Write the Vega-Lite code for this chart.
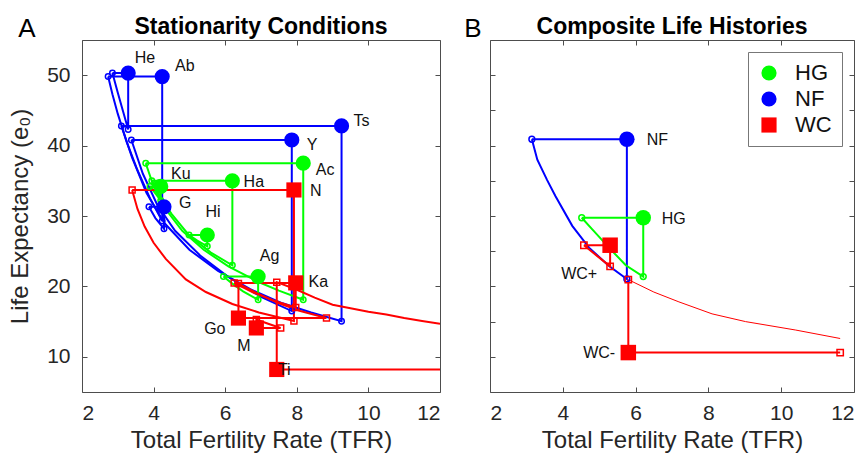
{
  "$schema": "https://vega.github.io/schema/vega-lite/v6.json",
  "autosize": {"type": "pad"},
  "padding": {"left": 8, "top": 15, "right": 0, "bottom": 3},
  "bounds": "flush",
  "spacing": 50,
  "resolve": {
    "scale": {"x": "independent", "y": "independent", "color": "independent", "shape": "independent", "stroke": "independent"},
    "legend": {"color": "independent", "shape": "independent", "stroke": "independent"}
  },
  "datasets": {
    "pa": [
      {"pop": "He", "g": "NF", "o": 0, "x": 2.85, "y": 50.3, "m": "O"},
      {"pop": "He", "g": "NF", "o": 1, "x": 3.29, "y": 50.3, "m": "F"},
      {"pop": "He", "g": "NF", "o": 2, "x": 3.29, "y": 42.3, "m": "O"},
      {"pop": "He", "g": "NF", "o": 3, "x": 3.15, "y": 44.8, "m": "-"},
      {"pop": "He", "g": "NF", "o": 4, "x": 3.0, "y": 47.5, "m": "-"},
      {"pop": "He", "g": "NF", "o": 5, "x": 2.85, "y": 50.3, "m": "-"},
      {"pop": "Ab", "g": "NF", "o": 0, "x": 2.73, "y": 49.8, "m": "O"},
      {"pop": "Ab", "g": "NF", "o": 1, "x": 4.24, "y": 49.8, "m": "F"},
      {"pop": "Ab", "g": "NF", "o": 2, "x": 4.24, "y": 29.3, "m": "O"},
      {"pop": "Ab", "g": "NF", "o": 3, "x": 3.9, "y": 32.5, "m": "-"},
      {"pop": "Ab", "g": "NF", "o": 4, "x": 3.55, "y": 36.5, "m": "-"},
      {"pop": "Ab", "g": "NF", "o": 5, "x": 3.25, "y": 40.5, "m": "-"},
      {"pop": "Ab", "g": "NF", "o": 6, "x": 3.0, "y": 44.5, "m": "-"},
      {"pop": "Ab", "g": "NF", "o": 7, "x": 2.85, "y": 47.3, "m": "-"},
      {"pop": "Ab", "g": "NF", "o": 8, "x": 2.73, "y": 49.8, "m": "-"},
      {"pop": "Ts", "g": "NF", "o": 0, "x": 3.1, "y": 42.8, "m": "O"},
      {"pop": "Ts", "g": "NF", "o": 1, "x": 9.25, "y": 42.8, "m": "F"},
      {"pop": "Ts", "g": "NF", "o": 2, "x": 9.25, "y": 15.06, "m": "O"},
      {"pop": "Ts", "g": "NF", "o": 3, "x": 8.4, "y": 16.3, "m": "-"},
      {"pop": "Ts", "g": "NF", "o": 4, "x": 7.6, "y": 17.6, "m": "-"},
      {"pop": "Ts", "g": "NF", "o": 5, "x": 6.7, "y": 19.6, "m": "-"},
      {"pop": "Ts", "g": "NF", "o": 6, "x": 5.8, "y": 22.2, "m": "-"},
      {"pop": "Ts", "g": "NF", "o": 7, "x": 5.0, "y": 25.2, "m": "-"},
      {"pop": "Ts", "g": "NF", "o": 8, "x": 4.3, "y": 29.0, "m": "-"},
      {"pop": "Ts", "g": "NF", "o": 9, "x": 3.8, "y": 33.3, "m": "-"},
      {"pop": "Ts", "g": "NF", "o": 10, "x": 3.4, "y": 38.3, "m": "-"},
      {"pop": "Ts", "g": "NF", "o": 11, "x": 3.1, "y": 42.8, "m": "-"},
      {"pop": "Y", "g": "NF", "o": 0, "x": 3.38, "y": 40.8, "m": "O"},
      {"pop": "Y", "g": "NF", "o": 1, "x": 7.86, "y": 40.8, "m": "F"},
      {"pop": "Y", "g": "NF", "o": 2, "x": 7.86, "y": 16.5, "m": "O"},
      {"pop": "Y", "g": "NF", "o": 3, "x": 7.0, "y": 18.5, "m": "-"},
      {"pop": "Y", "g": "NF", "o": 4, "x": 6.1, "y": 21.3, "m": "-"},
      {"pop": "Y", "g": "NF", "o": 5, "x": 5.3, "y": 24.4, "m": "-"},
      {"pop": "Y", "g": "NF", "o": 6, "x": 4.6, "y": 27.9, "m": "-"},
      {"pop": "Y", "g": "NF", "o": 7, "x": 4.1, "y": 31.6, "m": "-"},
      {"pop": "Y", "g": "NF", "o": 8, "x": 3.7, "y": 36.0, "m": "-"},
      {"pop": "Y", "g": "NF", "o": 9, "x": 3.38, "y": 40.8, "m": "-"},
      {"pop": "G", "g": "NF", "o": 0, "x": 3.87, "y": 31.3, "m": "O"},
      {"pop": "G", "g": "NF", "o": 1, "x": 4.29, "y": 31.3, "m": "F"},
      {"pop": "G", "g": "NF", "o": 2, "x": 4.29, "y": 28.2, "m": "O"},
      {"pop": "G", "g": "NF", "o": 3, "x": 4.05, "y": 29.7, "m": "-"},
      {"pop": "G", "g": "NF", "o": 4, "x": 3.87, "y": 31.3, "m": "-"},
      {"pop": "Ac", "g": "HG", "o": 0, "x": 3.78, "y": 37.5, "m": "O"},
      {"pop": "Ac", "g": "HG", "o": 1, "x": 8.18, "y": 37.5, "m": "F"},
      {"pop": "Ac", "g": "HG", "o": 2, "x": 8.18, "y": 18.1, "m": "O"},
      {"pop": "Ac", "g": "HG", "o": 3, "x": 7.5, "y": 19.4, "m": "-"},
      {"pop": "Ac", "g": "HG", "o": 4, "x": 6.9, "y": 20.7, "m": "-"},
      {"pop": "Ac", "g": "HG", "o": 5, "x": 6.1, "y": 22.8, "m": "-"},
      {"pop": "Ac", "g": "HG", "o": 6, "x": 5.4, "y": 25.2, "m": "-"},
      {"pop": "Ac", "g": "HG", "o": 7, "x": 4.8, "y": 27.9, "m": "-"},
      {"pop": "Ac", "g": "HG", "o": 8, "x": 4.3, "y": 31.2, "m": "-"},
      {"pop": "Ac", "g": "HG", "o": 9, "x": 4.0, "y": 34.2, "m": "-"},
      {"pop": "Ac", "g": "HG", "o": 10, "x": 3.78, "y": 37.5, "m": "-"},
      {"pop": "Ha", "g": "HG", "o": 0, "x": 3.95, "y": 35.0, "m": "O"},
      {"pop": "Ha", "g": "HG", "o": 1, "x": 6.2, "y": 35.0, "m": "F"},
      {"pop": "Ha", "g": "HG", "o": 2, "x": 6.2, "y": 23.0, "m": "O"},
      {"pop": "Ha", "g": "HG", "o": 3, "x": 5.6, "y": 24.8, "m": "-"},
      {"pop": "Ha", "g": "HG", "o": 4, "x": 5.0, "y": 27.2, "m": "-"},
      {"pop": "Ha", "g": "HG", "o": 5, "x": 4.5, "y": 30.3, "m": "-"},
      {"pop": "Ha", "g": "HG", "o": 6, "x": 4.2, "y": 32.6, "m": "-"},
      {"pop": "Ha", "g": "HG", "o": 7, "x": 3.95, "y": 35.0, "m": "-"},
      {"pop": "Ku", "g": "HG", "o": 0, "x": 3.9, "y": 34.2, "m": "O"},
      {"pop": "Ku", "g": "HG", "o": 1, "x": 4.2, "y": 34.2, "m": "F"},
      {"pop": "Ku", "g": "HG", "o": 2, "x": 4.2, "y": 32.2, "m": "O"},
      {"pop": "Ku", "g": "HG", "o": 3, "x": 4.05, "y": 33.2, "m": "-"},
      {"pop": "Ku", "g": "HG", "o": 4, "x": 3.9, "y": 34.2, "m": "-"},
      {"pop": "Hi", "g": "HG", "o": 0, "x": 4.99, "y": 27.3, "m": "O"},
      {"pop": "Hi", "g": "HG", "o": 1, "x": 5.5, "y": 27.3, "m": "F"},
      {"pop": "Hi", "g": "HG", "o": 2, "x": 5.5, "y": 25.7, "m": "O"},
      {"pop": "Hi", "g": "HG", "o": 3, "x": 5.22, "y": 26.5, "m": "-"},
      {"pop": "Hi", "g": "HG", "o": 4, "x": 4.99, "y": 27.3, "m": "-"},
      {"pop": "Ag", "g": "HG", "o": 0, "x": 5.95, "y": 21.4, "m": "O"},
      {"pop": "Ag", "g": "HG", "o": 1, "x": 6.92, "y": 21.4, "m": "F"},
      {"pop": "Ag", "g": "HG", "o": 2, "x": 6.92, "y": 18.1, "m": "O"},
      {"pop": "Ag", "g": "HG", "o": 3, "x": 6.5, "y": 19.3, "m": "-"},
      {"pop": "Ag", "g": "HG", "o": 4, "x": 6.2, "y": 20.4, "m": "-"},
      {"pop": "Ag", "g": "HG", "o": 5, "x": 5.95, "y": 21.4, "m": "-"},
      {"pop": "N", "g": "WC", "o": 0, "x": 3.4, "y": 33.7, "m": "O"},
      {"pop": "N", "g": "WC", "o": 1, "x": 7.92, "y": 33.7, "m": "F"},
      {"pop": "N", "g": "WC", "o": 2, "x": 7.92, "y": 15.1, "m": "O"},
      {"pop": "N", "g": "WC", "o": 3, "x": 6.94, "y": 16.3, "m": "-"},
      {"pop": "N", "g": "WC", "o": 4, "x": 6.2, "y": 17.5, "m": "-"},
      {"pop": "N", "g": "WC", "o": 5, "x": 5.46, "y": 19.2, "m": "-"},
      {"pop": "N", "g": "WC", "o": 6, "x": 4.9, "y": 21.0, "m": "-"},
      {"pop": "N", "g": "WC", "o": 7, "x": 4.34, "y": 23.9, "m": "-"},
      {"pop": "N", "g": "WC", "o": 8, "x": 4.0, "y": 26.2, "m": "-"},
      {"pop": "N", "g": "WC", "o": 9, "x": 3.75, "y": 28.5, "m": "-"},
      {"pop": "N", "g": "WC", "o": 10, "x": 3.55, "y": 31.0, "m": "-"},
      {"pop": "N", "g": "WC", "o": 11, "x": 3.4, "y": 33.7, "m": "-"},
      {"pop": "Ka", "g": "WC", "o": 0, "x": 6.25, "y": 20.5, "m": "O"},
      {"pop": "Ka", "g": "WC", "o": 1, "x": 7.97, "y": 20.5, "m": "F"},
      {"pop": "Ka", "g": "WC", "o": 2, "x": 7.97, "y": 17.0, "m": "O"},
      {"pop": "Ka", "g": "WC", "o": 3, "x": 7.4, "y": 17.9, "m": "-"},
      {"pop": "Ka", "g": "WC", "o": 4, "x": 6.8, "y": 19.1, "m": "-"},
      {"pop": "Ka", "g": "WC", "o": 5, "x": 6.25, "y": 20.5, "m": "-"},
      {"pop": "Go", "g": "WC", "o": 0, "x": 8.83, "y": 15.5, "m": "O"},
      {"pop": "Go", "g": "WC", "o": 1, "x": 6.37, "y": 15.5, "m": "F"},
      {"pop": "Go", "g": "WC", "o": 2, "x": 6.37, "y": 20.4, "m": "O"},
      {"pop": "Go", "g": "WC", "o": 3, "x": 6.9, "y": 19.0, "m": "-"},
      {"pop": "Go", "g": "WC", "o": 4, "x": 7.5, "y": 17.6, "m": "-"},
      {"pop": "Go", "g": "WC", "o": 5, "x": 8.1, "y": 16.5, "m": "-"},
      {"pop": "Go", "g": "WC", "o": 6, "x": 8.83, "y": 15.5, "m": "-"},
      {"pop": "M", "g": "WC", "o": 0, "x": 7.55, "y": 14.1, "m": "O"},
      {"pop": "M", "g": "WC", "o": 1, "x": 6.87, "y": 14.1, "m": "F"},
      {"pop": "M", "g": "WC", "o": 2, "x": 6.87, "y": 15.3, "m": "O"},
      {"pop": "M", "g": "WC", "o": 3, "x": 7.2, "y": 14.7, "m": "-"},
      {"pop": "M", "g": "WC", "o": 4, "x": 7.55, "y": 14.1, "m": "-"},
      {"pop": "Ti", "g": "WC", "o": 0, "x": 12.0, "y": 8.2, "m": "-"},
      {"pop": "Ti", "g": "WC", "o": 1, "x": 7.44, "y": 8.2, "m": "F"},
      {"pop": "Ti", "g": "WC", "o": 2, "x": 7.44, "y": 20.6, "m": "O"},
      {"pop": "Ti", "g": "WC", "o": 3, "x": 7.97, "y": 19.6, "m": "-"},
      {"pop": "Ti", "g": "WC", "o": 4, "x": 8.5, "y": 18.4, "m": "-"},
      {"pop": "Ti", "g": "WC", "o": 5, "x": 9.0, "y": 17.4, "m": "-"},
      {"pop": "Ti", "g": "WC", "o": 6, "x": 9.5, "y": 16.9, "m": "-"},
      {"pop": "Ti", "g": "WC", "o": 7, "x": 10.0, "y": 16.4, "m": "-"},
      {"pop": "Ti", "g": "WC", "o": 8, "x": 10.5, "y": 16.0, "m": "-"},
      {"pop": "Ti", "g": "WC", "o": 9, "x": 11.0, "y": 15.5, "m": "-"},
      {"pop": "Ti", "g": "WC", "o": 10, "x": 11.5, "y": 15.1, "m": "-"},
      {"pop": "Ti", "g": "WC", "o": 11, "x": 12.0, "y": 14.7, "m": "-"}
    ],
    "pb": [
      {"pop": "NF", "g": "NF", "o": 0, "x": 3.15, "y": 40.9, "m": "O"},
      {"pop": "NF", "g": "NF", "o": 1, "x": 5.76, "y": 40.9, "m": "F"},
      {"pop": "NF", "g": "NF", "o": 2, "x": 5.76, "y": 21.06, "m": "O"},
      {"pop": "NF", "g": "NF", "o": 3, "x": 5.27, "y": 22.9, "m": "-"},
      {"pop": "NF", "g": "NF", "o": 4, "x": 4.72, "y": 25.5, "m": "-"},
      {"pop": "NF", "g": "NF", "o": 5, "x": 4.26, "y": 28.6, "m": "-"},
      {"pop": "NF", "g": "NF", "o": 6, "x": 3.8, "y": 32.8, "m": "-"},
      {"pop": "NF", "g": "NF", "o": 7, "x": 3.57, "y": 35.1, "m": "-"},
      {"pop": "NF", "g": "NF", "o": 8, "x": 3.3, "y": 38.0, "m": "-"},
      {"pop": "NF", "g": "NF", "o": 9, "x": 3.15, "y": 40.9, "m": "-"},
      {"pop": "HG", "g": "HG", "o": 0, "x": 4.52, "y": 29.75, "m": "O"},
      {"pop": "HG", "g": "HG", "o": 1, "x": 6.21, "y": 29.75, "m": "F"},
      {"pop": "HG", "g": "HG", "o": 2, "x": 6.21, "y": 21.4, "m": "O"},
      {"pop": "HG", "g": "HG", "o": 3, "x": 5.73, "y": 23.0, "m": "-"},
      {"pop": "HG", "g": "HG", "o": 4, "x": 5.27, "y": 25.5, "m": "-"},
      {"pop": "HG", "g": "HG", "o": 5, "x": 4.81, "y": 28.1, "m": "-"},
      {"pop": "HG", "g": "HG", "o": 6, "x": 4.52, "y": 29.75, "m": "-"},
      {"pop": "WC+", "g": "WC", "o": 0, "x": 4.58, "y": 25.85, "m": "O"},
      {"pop": "WC+", "g": "WC", "o": 1, "x": 5.3, "y": 25.85, "m": "F"},
      {"pop": "WC+", "g": "WC", "o": 2, "x": 5.3, "y": 22.85, "m": "O"},
      {"pop": "WC+", "g": "WC", "o": 3, "x": 4.95, "y": 24.3, "m": "-"},
      {"pop": "WC+", "g": "WC", "o": 4, "x": 4.58, "y": 25.85, "m": "-"},
      {"pop": "WC-", "g": "WC", "o": 0, "x": 11.62, "y": 10.6, "m": "O"},
      {"pop": "WC-", "g": "WC", "o": 1, "x": 5.8, "y": 10.6, "m": "F"},
      {"pop": "WC-", "g": "WC", "o": 2, "x": 5.8, "y": 20.96, "m": "O"}
    ],
    "pbthin": [
      {"pop": "WCc", "g": "WC", "o": 0, "x": 5.8, "y": 20.96},
      {"pop": "WCc", "g": "WC", "o": 1, "x": 6.5, "y": 19.2},
      {"pop": "WCc", "g": "WC", "o": 2, "x": 7.19, "y": 17.8},
      {"pop": "WCc", "g": "WC", "o": 3, "x": 8.1, "y": 16.1},
      {"pop": "WCc", "g": "WC", "o": 4, "x": 9.02, "y": 15.0},
      {"pop": "WCc", "g": "WC", "o": 5, "x": 10.4, "y": 13.8},
      {"pop": "WCc", "g": "WC", "o": 6, "x": 11.62, "y": 12.6}
    ],
    "la": [
      {"t": "He", "x": 3.76, "y": 52.5},
      {"t": "Ab", "x": 4.87, "y": 51.3},
      {"t": "Ts", "x": 9.81, "y": 43.5},
      {"t": "Y", "x": 8.43, "y": 40.1},
      {"t": "Ac", "x": 8.79, "y": 36.6},
      {"t": "Ha", "x": 6.8, "y": 34.9},
      {"t": "N", "x": 8.53, "y": 33.6},
      {"t": "Ku", "x": 4.76, "y": 35.9},
      {"t": "G", "x": 4.88, "y": 31.8},
      {"t": "Hi", "x": 5.66, "y": 30.5},
      {"t": "Ag", "x": 7.24, "y": 24.3},
      {"t": "Ka", "x": 8.6, "y": 20.6},
      {"t": "Go", "x": 5.71, "y": 13.9},
      {"t": "M", "x": 6.52, "y": 11.6},
      {"t": "Ti", "x": 7.65, "y": 8.1}
    ],
    "lb": [
      {"t": "NF", "x": 6.6, "y": 40.8},
      {"t": "HG", "x": 7.05, "y": 29.6},
      {"t": "WC+", "x": 4.45, "y": 21.8},
      {"t": "WC-", "x": 5.0, "y": 10.6}
    ]
  },
  "hconcat": [
    {
      "width": 358,
      "height": 352,
      "title": {"text": "Stationarity Conditions"},
      "resolve": {"axis": {"x": "independent", "y": "independent"}},
      "layer": [
        {
          "data": {"name": "pa"},
          "mark": {"type": "line", "strokeWidth": 2, "clip": true},
          "encoding": {
            "x": {"field": "x", "type": "quantitative", "scale": {"domain": [2, 12], "nice": false, "zero": false},
                  "axis": {"orient": "bottom", "values": [2, 4, 6, 8, 10, 12], "title": "Total Fertility Rate (TFR)"}},
            "y": {"field": "y", "type": "quantitative", "scale": {"domain": [5, 55], "nice": false, "zero": false},
                  "axis": {"orient": "left", "values": [10, 20, 30, 40, 50], "title": "Life Expectancy (e₀)"}},
            "stroke": {"field": "g", "type": "nominal", "scale": {"domain": ["NF", "HG", "WC"], "range": ["#0000ff", "#00ff00", "#ff0000"]}, "legend": null},
            "detail": {"field": "pop"},
            "order": {"field": "o", "type": "quantitative"}
          }
        },
        {
          "data": {"name": "pa"},
          "transform": [{"filter": "datum.m == 'O' && datum.g != 'WC'"}],
          "mark": {"type": "point", "shape": "circle", "filled": false, "strokeWidth": 1.5, "size": 30, "opacity": 1},
          "encoding": {
            "x": {"field": "x", "type": "quantitative", "axis": {"orient": "top", "values": [2, 4, 6, 8, 10, 12], "labels": false, "title": null}},
            "y": {"field": "y", "type": "quantitative", "axis": {"orient": "right", "values": [10, 20, 30, 40, 50], "labels": false, "title": null}},
            "stroke": {"field": "g", "type": "nominal", "legend": null}
          }
        },
        {
          "data": {"name": "pa"},
          "transform": [{"filter": "datum.m == 'O' && datum.g == 'WC'"}],
          "mark": {"type": "point", "shape": "square", "filled": false, "strokeWidth": 1.5, "size": 36, "opacity": 1},
          "encoding": {
            "x": {"field": "x", "type": "quantitative", "axis": null},
            "y": {"field": "y", "type": "quantitative", "axis": null},
            "stroke": {"field": "g", "type": "nominal", "legend": null}
          }
        },
        {
          "data": {"name": "pa"},
          "transform": [{"filter": "datum.m == 'F'"}],
          "mark": {"type": "point", "filled": true, "size": 230, "opacity": 1},
          "encoding": {
            "x": {"field": "x", "type": "quantitative", "axis": null},
            "y": {"field": "y", "type": "quantitative", "axis": null},
            "color": {"field": "g", "type": "nominal", "scale": {"domain": ["HG", "NF", "WC"], "range": ["#00ff00", "#0000ff", "#ff0000"]}, "legend": null},
            "shape": {"field": "g", "type": "nominal", "scale": {"domain": ["HG", "NF", "WC"], "range": ["circle", "circle", "square"]}, "legend": null}
          }
        },
        {
          "data": {"name": "la"},
          "mark": {"type": "text", "fontSize": 16, "align": "center", "baseline": "middle", "color": "#111"},
          "encoding": {
            "x": {"field": "x", "type": "quantitative", "axis": null},
            "y": {"field": "y", "type": "quantitative", "axis": null},
            "text": {"field": "t"}
          }
        },
        {
          "data": {"values": [{"t": "A", "x": 0.46, "y": 56.5}]},
          "mark": {"type": "text", "fontSize": 26, "align": "center", "baseline": "middle", "color": "#000"},
          "encoding": {
            "x": {"field": "x", "type": "quantitative", "axis": null},
            "y": {"field": "y", "type": "quantitative", "axis": null},
            "text": {"field": "t"}
          }
        }
      ]
    },
    {
      "width": 364,
      "height": 352,
      "title": {"text": "Composite Life Histories"},
      "resolve": {"axis": {"x": "independent", "y": "independent"}},
      "layer": [
        {
          "data": {"name": "pb"},
          "mark": {"type": "line", "strokeWidth": 2, "clip": true},
          "encoding": {
            "x": {"field": "x", "type": "quantitative", "scale": {"domain": [2, 12], "nice": false, "zero": false},
                  "axis": {"orient": "bottom", "values": [2, 4, 6, 8, 10, 12], "title": "Total Fertility Rate (TFR)"}},
            "y": {"field": "y", "type": "quantitative", "scale": {"domain": [5, 55], "nice": false, "zero": false},
                  "axis": {"orient": "left", "values": [10, 15, 20, 25, 30, 35, 40, 45, 50], "labels": false, "title": null}},
            "stroke": {"field": "g", "type": "nominal", "scale": {"domain": ["NF", "HG", "WC"], "range": ["#0000ff", "#00ff00", "#ff0000"]}, "legend": null},
            "detail": {"field": "pop"},
            "order": {"field": "o", "type": "quantitative"}
          }
        },
        {
          "data": {"name": "pbthin"},
          "mark": {"type": "line", "strokeWidth": 1, "clip": true},
          "encoding": {
            "x": {"field": "x", "type": "quantitative", "axis": null},
            "y": {"field": "y", "type": "quantitative", "axis": null},
            "stroke": {"field": "g", "type": "nominal", "legend": null},
            "detail": {"field": "pop"},
            "order": {"field": "o", "type": "quantitative"}
          }
        },
        {
          "data": {"name": "pb"},
          "transform": [{"filter": "datum.m == 'O' && datum.g != 'WC'"}],
          "mark": {"type": "point", "shape": "circle", "filled": false, "strokeWidth": 1.5, "size": 34, "opacity": 1},
          "encoding": {
            "x": {"field": "x", "type": "quantitative", "axis": {"orient": "top", "values": [2, 4, 6, 8, 10, 12], "labels": false, "title": null}},
            "y": {"field": "y", "type": "quantitative", "axis": {"orient": "right", "values": [10, 15, 20, 25, 30, 35, 40, 45, 50], "labels": false, "title": null}},
            "stroke": {"field": "g", "type": "nominal", "legend": null}
          }
        },
        {
          "data": {"name": "pb"},
          "transform": [{"filter": "datum.m == 'O' && datum.g == 'WC'"}],
          "mark": {"type": "point", "shape": "square", "filled": false, "strokeWidth": 1.5, "size": 40, "opacity": 1},
          "encoding": {
            "x": {"field": "x", "type": "quantitative", "axis": null},
            "y": {"field": "y", "type": "quantitative", "axis": null},
            "stroke": {"field": "g", "type": "nominal", "legend": null}
          }
        },
        {
          "data": {"name": "pb"},
          "transform": [{"filter": "datum.m == 'F'"}],
          "mark": {"type": "point", "filled": true, "size": 240, "opacity": 1},
          "encoding": {
            "x": {"field": "x", "type": "quantitative", "axis": null},
            "y": {"field": "y", "type": "quantitative", "axis": null},
            "color": {"field": "g", "type": "nominal", "scale": {"domain": ["HG", "NF", "WC"], "range": ["#00ff00", "#0000ff", "#ff0000"]}, "legend": {"title": null, "orient": "top-right"}},
            "shape": {"field": "g", "type": "nominal", "scale": {"domain": ["HG", "NF", "WC"], "range": ["circle", "circle", "square"]}, "legend": {"title": null, "orient": "top-right"}}
          }
        },
        {
          "data": {"name": "lb"},
          "mark": {"type": "text", "fontSize": 16, "align": "center", "baseline": "middle", "color": "#111"},
          "encoding": {
            "x": {"field": "x", "type": "quantitative", "axis": null},
            "y": {"field": "y", "type": "quantitative", "axis": null},
            "text": {"field": "t"}
          }
        },
        {
          "data": {"values": [{"t": "B", "x": 1.53, "y": 56.6}]},
          "mark": {"type": "text", "fontSize": 26, "align": "center", "baseline": "middle", "color": "#000"},
          "encoding": {
            "x": {"field": "x", "type": "quantitative", "axis": null},
            "y": {"field": "y", "type": "quantitative", "axis": null},
            "text": {"field": "t"}
          }
        }
      ]
    }
  ],
  "config": {
    "font": "Liberation Sans",
    "background": "white",
    "view": {"stroke": null},
    "axis": {
      "grid": false,
      "labelFontSize": 21,
      "titleFontSize": 24,
      "titleFontWeight": "normal",
      "labelColor": "#262626",
      "titleColor": "#262626",
      "domainColor": "#4d4d4d",
      "tickColor": "#4d4d4d",
      "domainWidth": 1,
      "tickSize": -5,
      "labelPadding": 17
    },
    "axisBottom": {"labelPadding": 15, "titlePadding": 5},
    "axisLeft": {"titlePadding": 14},
    "title": {"fontSize": 23, "fontWeight": "bold", "offset": -23, "color": "#000"},
    "legend": {
      "labelFontSize": 22,
      "labelColor": "#111",
      "symbolSize": 230,
      "strokeColor": "#777",
      "fillColor": "white",
      "padding": 10,
      "rowPadding": 4,
      "offset": 12,
      "labelOffset": 15,
      "symbolStrokeWidth": 0
    }
  }
}
